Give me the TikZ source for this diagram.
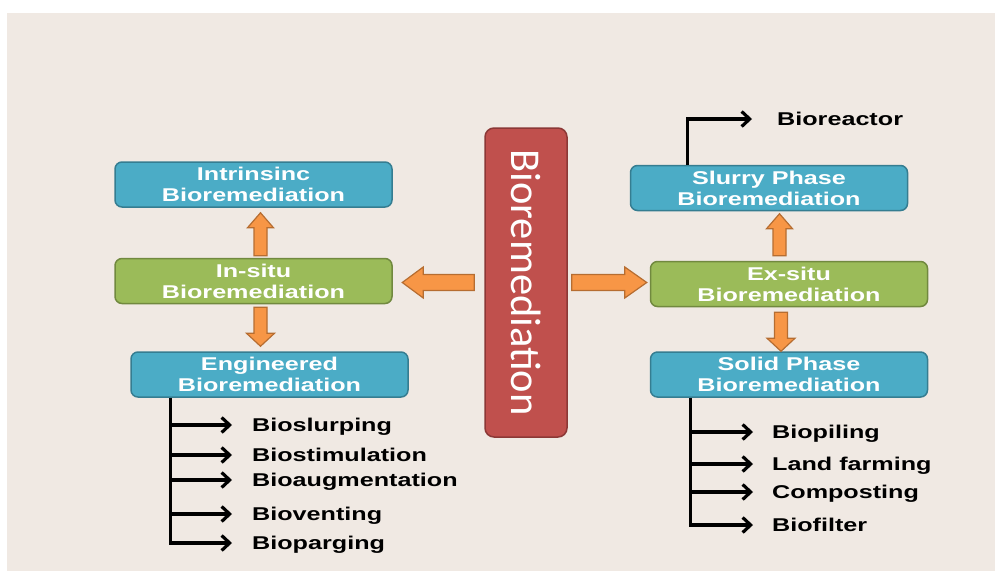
\documentclass[tikz,border=0pt]{standalone}
\usepackage{fontspec}
\usetikzlibrary{arrows.meta,calc}
\newfontfamily\labelfont{Liberation Sans}[FakeStretch=1.36]
\newfontfamily\titlefont{Carlito}

\definecolor{bg}{HTML}{F0E9E3}
\definecolor{bluefill}{HTML}{4BACC6}
\definecolor{blueline}{HTML}{357D91}
\definecolor{greenfill}{HTML}{9BBB59}
\definecolor{greenline}{HTML}{71893F}
\definecolor{redfill}{HTML}{C0504D}
\definecolor{redline}{HTML}{8C3836}
\definecolor{orangefill}{HTML}{F79646}
\definecolor{orangeline}{HTML}{B66D31}

% block arrow: tail point, direction angle, length, shaft half-width, head half-width, head length
\newcommand{\blockarrow}[6]{%
  \begin{scope}[shift={#1}, rotate=#2]
    \draw[barrow] (0,-#4) -- (#3-#6,-#4) -- (#3-#6,-#5) -- (#3,0)
      -- (#3-#6,#5) -- (#3-#6,#4) -- (0,#4) -- cycle;
  \end{scope}}

\begin{document}
\begin{tikzpicture}[x=1pt,y=-1pt,
  box/.style={rounded corners=7pt, line width=1.5pt, minimum width=277pt,
    minimum height=45pt, align=center, text=white, inner sep=0pt,
    font=\labelfont\bfseries\fontsize{18.5}{21}\selectfont},
  bluebox/.style={box, fill=bluefill, draw=blueline},
  greenbox/.style={box, fill=greenfill, draw=greenline},
  bigbox/.style={rounded corners=9pt, line width=1.5pt, fill=redfill, draw=redline,
    minimum width=82pt, minimum height=309pt, inner sep=0pt, text=white,
    font=\titlefont\fontsize{42.5}{42.5}\selectfont},
  barrow/.style={fill=orangefill, draw=orangeline, line width=1.2pt, line join=miter},
  lead/.style={line width=3.2pt, -{Straight Barb[length=8pt,width=15pt]}},
  item/.style={anchor=west, inner sep=0pt, text height=13pt, text depth=0pt,
    font=\labelfont\bfseries\fontsize{18.5}{21}\selectfont}]

% page and panel
\useasboundingbox (0,0) rectangle (995,571);
\fill[white] (0,0) rectangle (995,571);
\fill[bg] (7,13) rectangle (995,571);

% central box
\node[bigbox] (bio) at (526,282.5) {\rotatebox{-90}{Bioremediation}};

% left branch
\node[bluebox]  (intr)  at (253.5,184.5) {Intrinsinc\\Bioremediation};
\node[greenbox] (insitu) at (253.5,281) {In-situ\\Bioremediation};
\node[bluebox]  (eng)   at (269.5,374.5) {Engineered\\Bioremediation};

% right branch
\node[bluebox]  (slurry) at (769,188) {Slurry Phase\\Bioremediation};
\node[greenbox] (exsitu) at (789,284) {Ex-situ\\Bioremediation};
\node[bluebox]  (solid)  at (789,374.5) {Solid Phase\\Bioremediation};

% block arrows
\blockarrow{($(bio.west)+(-10,0)$)}{180}{72}{8}{15.5}{21}
\blockarrow{($(bio.east)+(4,0)$)}{0}{75}{8}{15.5}{22}
\blockarrow{($(insitu.north)+(7,-2)$)}{90}{43}{6.5}{13}{15}
\blockarrow{($(insitu.south)+(7,3)$)}{-90}{39}{6.5}{14}{13}
\blockarrow{($(exsitu.north)+(-9.5,-5)$)}{90}{42}{6.5}{13}{15}
\blockarrow{($(exsitu.south)+(-8,5)$)}{-90}{39}{6.5}{14}{13}

% engineered methods
\node[item] (b1) at (252,425) {Bioslurping};
\node[item] (b2) at (252,455) {Biostimulation};
\node[item] (b3) at (252,480) {Bioaugmentation};
\node[item] (b4) at (252,514) {Bioventing};
\node[item] (b5) at (252,543) {Bioparging};
\coordinate (ltop) at ([xshift=40pt]eng.south west);
\draw[lead] (ltop) -- (ltop |- b5.west) -- ([xshift=-20pt]b5.west);
\foreach \n in {b1,b2,b3,b4}
  \draw[lead] (ltop |- \n.west) -- ([xshift=-20pt]\n.west);

% solid phase methods
\node[item] (s1) at (772,432) {Biopiling};
\node[item] (s2) at (772,464) {Land farming};
\node[item] (s3) at (772,492) {Composting};
\node[item] (s4) at (772,525) {Biofilter};
\coordinate (rtop) at ([xshift=41pt]solid.south west);
\draw[lead] (rtop) -- (rtop |- s4.west) -- ([xshift=-19pt]s4.west);
\foreach \n in {s1,s2,s3}
  \draw[lead] (rtop |- \n.west) -- ([xshift=-19pt]\n.west);

% slurry phase method
\node[item] (reactor) at (777,119) {Bioreactor};
\draw[lead] ([xshift=58pt]slurry.north west) |- ([xshift=-25pt]reactor.west);

\end{tikzpicture}
\end{document}
